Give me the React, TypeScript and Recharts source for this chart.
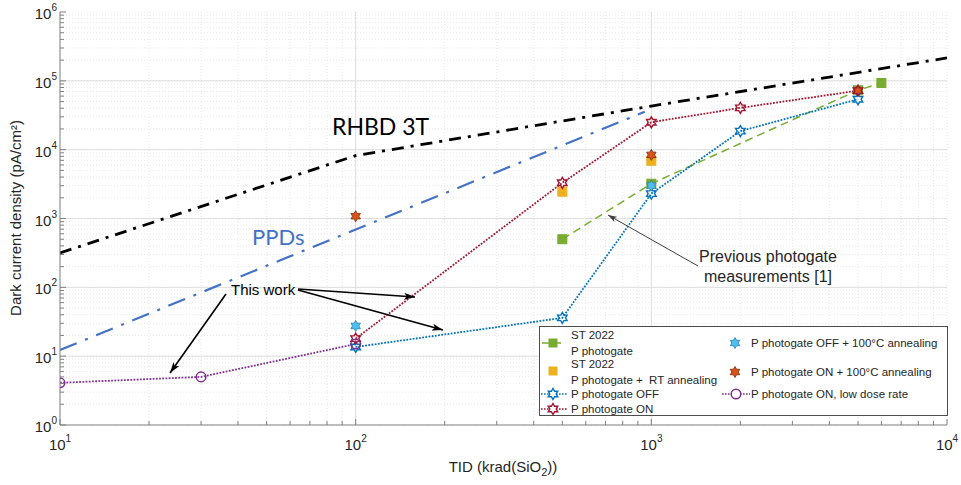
import React from "react";
import {
  ComposedChart,
  Line,
  XAxis,
  YAxis,
  CartesianGrid,
  ReferenceLine,
  Legend,
} from "recharts";

const W = 961;
const H = 485;

// TID (krad(SiO2)) against dark current density (pA/cm²)
const RHBD_TID = [10, 100, 1000, 10000];
const RHBD_DC = [316, 8200, 43000, 215000];

const PPD_TID = [10, 950];
const PPD_DC = [12.3, 35500];

const ST_TID = [500, 1000, 5000, 6000];
const ST_DC = [500, 3200, 73000, 93000];

const ST_RT_TID = [500, 1000];
const ST_RT_DC = [2450, 6900];

const OFF_TID = [100, 500, 1000, 2000, 5000];
const OFF_DC = [13.6, 36, 2300, 18600, 54000];

const ON_TID = [100, 500, 1000, 2000, 5000];
const ON_DC = [18, 3300, 25000, 40500, 72000];

const OFF_ANN_TID = [100, 1000];
const OFF_ANN_DC = [27.5, 3000];

const ON_ANN_TID = [100, 1000, 5000];
const ON_ANN_DC = [1080, 8400, 72000];

const LOW_TID = [10, 30, 100];
const LOW_DC = [4.1, 5.0, 15];

const X_DECADES = [10, 100, 1000, 10000];
const Y_DECADES = [1, 10, 100, 1000, 10000, 100000, 1000000];
const MINOR_STEPS = [1, 2, 3, 4, 5, 6, 7, 8, 9];

const withMinors = (decades: number[]) => [
  ...decades.slice(0, -1).flatMap((d) => MINOR_STEPS.map((m) => d * m)),
  decades[decades.length - 1],
];
const X_TICKS = withMinors(X_DECADES);
const Y_TICKS = withMinors(Y_DECADES);

const pts = (xs: number[], ys: number[]) => xs.map((x, i) => ({ x, y: ys[i] }));

const C_BLUE = "#0072BD";
const C_RED = "#A2142F";
const C_PURPLE = "#7E2F8E";
const C_GREEN = "#77AC30";
const C_YELLOW = "#EDB120";
const C_ORANGE = "#D95319";
const C_CYAN = "#4DBEEE";
const C_PPD = "#4472C4";
const AXIS = "#808080";
const TXT = "#262626";
const FONT = "'Liberation Sans', Arial, sans-serif";
const CAL = "Lato, 'Open Sans', sans-serif";

const isDecade = (v: number) =>
  Math.abs(Math.log10(v) - Math.round(Math.log10(v))) < 1e-9;

function hexPath(cx: number, cy: number, r: number) {
  const p: string[] = [];
  for (let k = 0; k < 12; k++) {
    const a = ((-90 + 30 * k) * Math.PI) / 180;
    const rr = k % 2 === 0 ? r : r / Math.sqrt(3);
    p.push(`${(cx + rr * Math.cos(a)).toFixed(2)},${(cy + rr * Math.sin(a)).toFixed(2)}`);
  }
  return "M" + p.join("L") + "Z";
}

const hexDot = (stroke: string, fill: string, sw = 1.4) => (p: any) =>
  p.cx == null ? (
    <g key={p.index} />
  ) : (
    <path key={p.index} d={hexPath(p.cx, p.cy, 5.5)} stroke={stroke} strokeWidth={sw} fill={fill} />
  );

const squareDot = (fill: string) => (p: any) =>
  p.cx == null ? (
    <g key={p.index} />
  ) : (
    <rect key={p.index} x={p.cx - 4.5} y={p.cy - 4.5} width={9} height={9} fill={fill} stroke={fill} />
  );

const circleDot = (p: any) =>
  p.cx == null ? (
    <g key={p.index} />
  ) : (
    <circle key={p.index} cx={p.cx} cy={p.cy} r={4.8} fill="none" stroke={C_PURPLE} strokeWidth={1.5} />
  );

function Sup({ x, y, exp, anchor }: { x: number; y: number; exp: number; anchor: string }) {
  return (
    <text x={x} y={y} textAnchor={anchor} fontSize={15} fill={TXT} fontFamily={FONT}>
      <tspan>10</tspan>
      <tspan dy={-8} fontSize={10}>
        {exp}
      </tspan>
    </text>
  );
}

function BottomTick(props: any) {
  const { x, y, payload } = props;
  const major = isDecade(payload.value);
  return (
    <g>
      <line x1={x} x2={x} y1={y} y2={y - (major ? 6 : 4)} stroke={AXIS} />
      {major && <Sup x={x} y={y + 25} exp={Math.round(Math.log10(payload.value))} anchor="middle" />}
    </g>
  );
}

function TopTick(props: any) {
  const { x, y, payload } = props;
  const major = isDecade(payload.value);
  return <line x1={x} x2={x} y1={y} y2={y + (major ? 6 : 4)} stroke={AXIS} />;
}

function LeftTick(props: any) {
  const { x, y, payload } = props;
  const major = isDecade(payload.value);
  return (
    <g>
      <line x1={x} x2={x + (major ? 6 : 4)} y1={y} y2={y} stroke={AXIS} />
      {major && <Sup x={x - 3} y={y + 7} exp={Math.round(Math.log10(payload.value))} anchor="end" />}
    </g>
  );
}

function RightTick(props: any) {
  const { x, y, payload } = props;
  const major = isDecade(payload.value);
  return <line x1={x} x2={x - (major ? 6 : 4)} y1={y} y2={y} stroke={AXIS} />;
}

function LegendBox() {
  const t = (x: number, y: number, s: string) => (
    <text x={x} y={y} fontSize={11.5} fill={TXT} fontFamily={FONT} style={{ whiteSpace: "pre" }}>
      {s}
    </text>
  );
  return (
    <svg width={409} height={90} style={{ display: "block", overflow: "visible" }}>
      <rect x={0.5} y={0.5} width={408} height={89} fill="#fff" stroke="#4d4d4d" />
      <line x1={3} x2={27} y1={17} y2={17} stroke={C_GREEN} strokeWidth={1.5} strokeDasharray="7 5" />
      <rect x={9.5} y={12.5} width={9} height={9} fill={C_GREEN} />
      {t(32, 13, "ST 2022")}
      {t(32, 29, "P photogate")}
      <rect x={9.5} y={40.5} width={9} height={9} fill={C_YELLOW} />
      {t(32, 42, "ST 2022")}
      {t(32, 58, "P photogate +  RT annealing")}
      <line x1={2} x2={28} y1={68} y2={68} stroke={C_BLUE} strokeWidth={1.6} strokeDasharray="1.6 1.4" />
      <path d={hexPath(14, 68, 5.5)} stroke={C_BLUE} strokeWidth={1.4} fill="#fff" />
      {t(32, 72, "P photogate OFF")}
      <line x1={2} x2={28} y1={83} y2={83} stroke={C_RED} strokeWidth={1.6} strokeDasharray="1.6 1.4" />
      <path d={hexPath(14, 83, 5.5)} stroke={C_RED} strokeWidth={1.4} fill="#fff" />
      {t(32, 87, "P photogate ON")}
      <path d={hexPath(196, 17, 5.5)} stroke="#2b7fae" strokeWidth={0.8} fill={C_CYAN} />
      {t(212, 21, "P photogate OFF + 100°C annealing")}
      <path d={hexPath(196, 46, 5.5)} stroke="#7a2a0a" strokeWidth={0.8} fill={C_ORANGE} />
      {t(212, 50, "P photogate ON + 100°C annealing")}
      <line x1={183} x2={211} y1={68} y2={68} stroke={C_PURPLE} strokeWidth={1.6} strokeDasharray="1.6 1.4" />
      <circle cx={197} cy={68} r={4.8} fill="#fff" stroke={C_PURPLE} strokeWidth={1.5} />
      {t(212, 72, "P photogate ON, low dose rate")}
    </svg>
  );
}

function Annotations() {
  return (
    <svg
      width={W}
      height={H}
      style={{ position: "absolute", left: 0, top: 0, pointerEvents: "none" }}
    >
      <defs>
        <marker id="ahBlack" viewBox="0 0 10 7" refX={10} refY={3.5} markerWidth={11} markerHeight={7}
          markerUnits="userSpaceOnUse" orient="auto" preserveAspectRatio="none">
          <path d="M0,0 L10,3.5 L0,7 L2.5,3.5 Z" fill="#000" />
        </marker>
        <marker id="ahGray" viewBox="0 0 10 7" refX={10} refY={3.5} markerWidth={9} markerHeight={6}
          markerUnits="userSpaceOnUse" orient="auto" preserveAspectRatio="none">
          <path d="M0,0 L10,3.5 L0,7 L2.5,3.5 Z" fill="#404040" />
        </marker>
      </defs>
      <text x={332} y={135} fontSize={23} fill="#000" fontFamily={CAL}>
        RHBD 3T
      </text>
      <text x={252} y={245} fontSize={22} fill={C_PPD} fontFamily={CAL}>
        PPDs
      </text>
      <text x={231} y={295} fontSize={15} fill="#000" fontFamily={FONT}>
        This work
      </text>
      <line x1={226} y1={294} x2={170} y2={373} stroke="#000" strokeWidth={1.6} markerEnd="url(#ahBlack)" />
      <line x1={298} y1={289} x2={415} y2={297} stroke="#000" strokeWidth={1.6} markerEnd="url(#ahBlack)" />
      <line x1={298} y1={290} x2={443} y2={330} stroke="#000" strokeWidth={1.6} markerEnd="url(#ahBlack)" />
      <text x={768} y={262} fontSize={16} fill={TXT} fontFamily={FONT} textAnchor="middle">
        Previous photogate
      </text>
      <text x={768} y={282} fontSize={16} fill={TXT} fontFamily={FONT} textAnchor="middle">
        measurements [1]
      </text>
      <line x1={698} y1={266} x2={608} y2={215} stroke="#404040" strokeWidth={1} markerEnd="url(#ahGray)" />
      <text
        transform="translate(21,218) rotate(-90)"
        textAnchor="middle"
        fontSize={15}
        fill={TXT}
        fontFamily={FONT}
      >
        Dark current density (pA/cm²)
      </text>
      <text x={503} y={472} textAnchor="middle" fontSize={15} fill={TXT} fontFamily={FONT}>
        TID (krad(SiO
        <tspan dy={4} fontSize={11}>
          2
        </tspan>
        <tspan dy={-4}>))</tspan>
      </text>
    </svg>
  );
}

export default function App() {
  return (
    <div style={{ position: "absolute", left: 0, top: 0, width: W, height: H, background: "#fff" }}>
      <ComposedChart width={W} height={H} margin={{ top: 12, right: 14, bottom: 0, left: 0 }}>
        <CartesianGrid stroke="#e8e8e8" strokeDasharray="1 2" />
        {X_DECADES.slice(1, -1).map((v) => (
          <ReferenceLine key={"gx" + v} x={v} stroke="#dedede" />
        ))}
        {Y_DECADES.slice(1, -1).map((v) => (
          <ReferenceLine key={"gy" + v} y={v} stroke="#dedede" />
        ))}
        <XAxis
          dataKey="x"
          type="number"
          scale="log"
          domain={[10, 10000]}
          allowDataOverflow
          ticks={X_TICKS}
          interval={0}
          tick={<BottomTick />}
          tickLine={false}
          tickSize={0}
          tickMargin={0}
          axisLine={{ stroke: AXIS }}
          height={60}
        />
        <XAxis
          xAxisId="top"
          orientation="top"
          dataKey="x"
          type="number"
          scale="log"
          domain={[10, 10000]}
          allowDataOverflow
          ticks={X_TICKS}
          interval={0}
          tick={<TopTick />}
          tickLine={false}
          tickSize={0}
          tickMargin={0}
          axisLine={{ stroke: AXIS }}
          height={0}
        />
        <YAxis
          dataKey="y"
          type="number"
          scale="log"
          domain={[1, 1000000]}
          allowDataOverflow
          ticks={Y_TICKS}
          interval={0}
          tick={<LeftTick />}
          tickLine={false}
          tickSize={0}
          tickMargin={0}
          axisLine={{ stroke: AXIS }}
          width={60}
        />
        <YAxis
          yAxisId="right"
          orientation="right"
          dataKey="y"
          type="number"
          scale="log"
          domain={[1, 1000000]}
          allowDataOverflow
          ticks={Y_TICKS}
          interval={0}
          tick={<RightTick />}
          tickLine={false}
          tickSize={0}
          tickMargin={0}
          axisLine={{ stroke: AXIS }}
          width={0}
        />
        <Line data={pts(RHBD_TID, RHBD_DC)} dataKey="y" stroke="#000" strokeWidth={2.8}
          strokeDasharray="12 7 3 7" dot={false} activeDot={false} isAnimationActive={false} />
        <Line data={pts(PPD_TID, PPD_DC)} dataKey="y" stroke={C_PPD} strokeWidth={2.2}
          strokeDasharray="18 9 3 9" dot={false} activeDot={false} isAnimationActive={false} />
        <Line data={pts(ST_TID, ST_DC)} dataKey="y" stroke={C_GREEN} strokeWidth={1.5}
          strokeDasharray="8 5" dot={squareDot(C_GREEN)} activeDot={false} isAnimationActive={false} />
        <Line data={pts(ST_RT_TID, ST_RT_DC)} dataKey="y" stroke="none"
          dot={squareDot(C_YELLOW)} activeDot={false} isAnimationActive={false} />
        <Line data={pts(ON_ANN_TID, ON_ANN_DC)} dataKey="y" stroke="none"
          dot={hexDot("#7a2a0a", C_ORANGE, 0.8)} activeDot={false} isAnimationActive={false} />
        <Line data={pts(OFF_TID, OFF_DC)} dataKey="y" stroke={C_BLUE} strokeWidth={1.8}
          strokeDasharray="1.8 1.4" dot={hexDot(C_BLUE, "none")} activeDot={false} isAnimationActive={false} />
        <Line data={pts(ON_TID, ON_DC)} dataKey="y" stroke={C_RED} strokeWidth={1.8}
          strokeDasharray="1.8 1.4" dot={hexDot(C_RED, "none")} activeDot={false} isAnimationActive={false} />
        <Line data={pts(OFF_ANN_TID, OFF_ANN_DC)} dataKey="y" stroke="none"
          dot={hexDot("#2b7fae", C_CYAN, 0.8)} activeDot={false} isAnimationActive={false} />
        <Line data={pts(LOW_TID, LOW_DC)} dataKey="y" stroke={C_PURPLE} strokeWidth={1.8}
          strokeDasharray="1.8 1.4" dot={circleDot} activeDot={false} isAnimationActive={false} />
        <Legend
          layout="horizontal"
          align="center"
          verticalAlign="middle"
          wrapperStyle={{ left: 539, top: 326, width: 409, height: 90 }}
          content={() => <LegendBox />}
        />
      </ComposedChart>
      <Annotations />
    </div>
  );
}
